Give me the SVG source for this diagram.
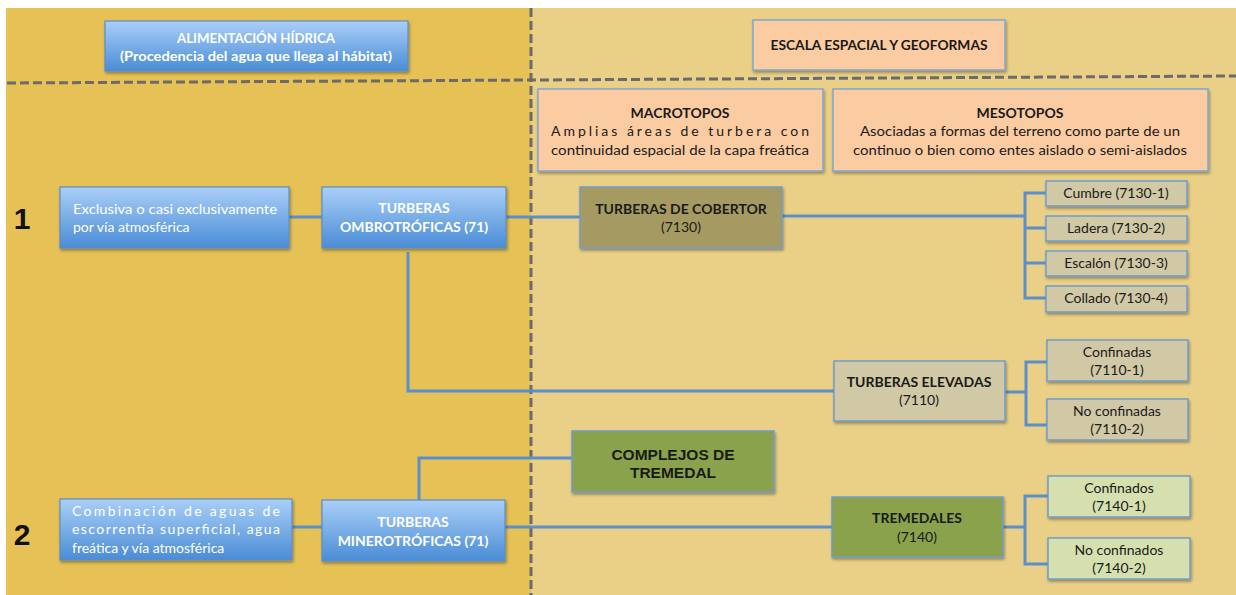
<svg xmlns="http://www.w3.org/2000/svg" width="1236" height="595" viewBox="0 0 1236 595">
<defs>
<linearGradient id="blueGrad" x1="0" y1="0" x2="0" y2="1">
<stop offset="0" stop-color="#AACFF8"/>
<stop offset="1" stop-color="#4A8CD5"/>
</linearGradient>
<filter id="sh" x="-10%" y="-10%" width="125%" height="140%">
<feDropShadow dx="1" dy="2" stdDeviation="1.5" flood-color="#000" flood-opacity="0.35"/>
</filter>
</defs>
<style>
text{font-family:Lato,"Open Sans","Liberation Sans",sans-serif;font-size:14px;fill:#1a1a1a;text-anchor:middle}
.w{fill:#ffffff}
.b{font-weight:bold}
.l{text-anchor:start}
.blue{fill:url(#blueGrad);stroke:#5B8ECC;stroke-width:1.2;filter:url(#sh)}
.peach{fill:#FBCCA2;stroke:#7FA6D2;stroke-width:1.5;filter:url(#sh)}
.olive{fill:#A59A62;stroke:#6F9CD0;stroke-width:1.5;filter:url(#sh)}
.khaki{fill:#D1C8A5;stroke:#6F9CD0;stroke-width:1.5;filter:url(#sh)}
.green{fill:#8AA24B;stroke:#6F9CD0;stroke-width:1.5;filter:url(#sh)}
.lgreen{fill:#D6E0AF;stroke:#6F9CD0;stroke-width:1.5;filter:url(#sh)}
.con{fill:none;stroke:#5B8FCB;stroke-width:3}
.dash{fill:none;stroke:#6B6B6B;stroke-width:3;stroke-dasharray:9 4}
.num{font-family:"Liberation Sans",Arial,sans-serif;font-size:30px;font-weight:bold;fill:#111}
.arial{font-family:"Liberation Sans",Arial,sans-serif;font-size:15.5px}
</style>
<rect x="0" y="0" width="1236" height="595" fill="#ffffff"/>
<rect x="6" y="8" width="525" height="587" fill="#E5C156"/>
<rect x="531" y="8" width="705" height="587" fill="#E9D086"/>
<g id="separators">
<path class="dash" d="M7,83 L1236,76"/>
<path class="dash" d="M531,8 L531,595"/>
</g>
<g id="connectors">
<path class="con" d="M289,217 L322,217"/>
<path class="con" d="M506,217 L580,217"/>
<path class="con" d="M782,216 L1025,216"/>
<path class="con" d="M1046,193 L1025,193 L1025,298 L1046,298"/>
<path class="con" d="M1025,228 L1046,228"/>
<path class="con" d="M1025,263 L1046,263"/>
<path class="con" d="M408,252 L408,391 L834,391"/>
<path class="con" d="M1005,392 L1026,392"/>
<path class="con" d="M1047,362 L1026,362 L1026,425 L1047,425"/>
<path class="con" d="M292,527 L322,527"/>
<path class="con" d="M419,500 L419,458 L572,458"/>
<path class="con" d="M505,527 L832,527"/>
<path class="con" d="M1003,527 L1025,527"/>
<path class="con" d="M1048,496 L1025,496 L1025,564 L1048,564"/>
</g>
<g id="n-alimentacion">
<rect class="blue" x="105" y="21" width="303" height="50"/>
<text class="w b" x="256" y="43" textLength="158" lengthAdjust="spacingAndGlyphs">ALIMENTACIÓN HÍDRICA</text>
<text class="w b" x="256" y="61" textLength="272" lengthAdjust="spacingAndGlyphs">(Procedencia del agua que llega al hábitat)</text>
</g>
<g id="n-escala">
<rect class="peach" x="753" y="20" width="252" height="50"/>
<text class="b" x="879" y="50" textLength="217" lengthAdjust="spacingAndGlyphs">ESCALA ESPACIAL Y GEOFORMAS</text>
</g>
<g id="n-macrotopos">
<rect class="peach" x="538" y="89" width="285" height="82"/>
<text class="b" x="680" y="118">MACROTOPOS</text>
<text x="680" y="136" textLength="258" lengthAdjust="spacing">Amplias áreas de turbera con</text>
<text x="680" y="155" textLength="258" lengthAdjust="spacingAndGlyphs">continuidad espacial de la capa freática</text>
</g>
<g id="n-mesotopos">
<rect class="peach" x="833" y="89" width="375" height="82"/>
<text class="b" x="1020" y="118">MESOTOPOS</text>
<text x="1020" y="136" textLength="320" lengthAdjust="spacingAndGlyphs">Asociadas a formas del terreno como parte de un</text>
<text x="1020" y="155" textLength="334" lengthAdjust="spacingAndGlyphs">continuo o bien como entes aislado o semi-aislados</text>
</g>
<g id="n-1">
<text class="num" x="22" y="229">1</text>
</g>
<g id="n-exclusiva">
<rect class="blue" x="60" y="187" width="229" height="61"/>
<text class="w l" x="73" y="214" textLength="204" lengthAdjust="spacingAndGlyphs">Exclusiva o casi exclusivamente</text>
<text class="w l" x="73" y="232">por vía atmosférica</text>
</g>
<g id="n-ombro">
<rect class="blue" x="322" y="187" width="184" height="61"/>
<text class="w b" x="414" y="213">TURBERAS</text>
<text class="w b" x="414" y="232">OMBROTRÓFICAS (71)</text>
</g>
<g id="n-cobertor">
<rect class="olive" x="580" y="187" width="202" height="61"/>
<text class="b" x="681" y="214">TURBERAS DE COBERTOR</text>
<text x="681" y="232">(7130)</text>
</g>
<g id="n-cumbre">
<rect class="khaki" x="1046" y="181" width="141" height="25"/>
<text x="1116" y="198">Cumbre (7130-1)</text>
</g>
<g id="n-ladera">
<rect class="khaki" x="1046" y="216" width="141" height="25"/>
<text x="1116" y="233">Ladera (7130-2)</text>
</g>
<g id="n-escalon">
<rect class="khaki" x="1046" y="251" width="141" height="25"/>
<text x="1116" y="268">Escalón (7130-3)</text>
</g>
<g id="n-collado">
<rect class="khaki" x="1046" y="286" width="141" height="26"/>
<text x="1116" y="303">Collado (7130-4)</text>
</g>
<g id="n-elevadas">
<rect class="khaki" x="834" y="361" width="171" height="60"/>
<text class="b" x="919" y="387">TURBERAS ELEVADAS</text>
<text x="919" y="405">(7110)</text>
</g>
<g id="n-confinadas">
<rect class="khaki" x="1047" y="340" width="141" height="41"/>
<text x="1117" y="357">Confinadas</text>
<text x="1117" y="375">(7110-1)</text>
</g>
<g id="n-noconfinadas">
<rect class="khaki" x="1047" y="399" width="141" height="41"/>
<text x="1117" y="416">No confinadas</text>
<text x="1117" y="434">(7110-2)</text>
</g>
<g id="n-complejos">
<rect class="green" x="572" y="431" width="202" height="61"/>
<text class="b arial" x="673" y="460">COMPLEJOS DE</text>
<text class="b arial" x="673" y="478">TREMEDAL</text>
</g>
<g id="n-2">
<text class="num" x="22" y="545">2</text>
</g>
<g id="n-combinacion">
<rect class="blue" x="60" y="499" width="232" height="61"/>
<text class="w l" x="72" y="516" textLength="208" lengthAdjust="spacing">Combinación de aguas de</text>
<text class="w l" x="72" y="534" textLength="208" lengthAdjust="spacing">escorrentía superficial, agua</text>
<text class="w l" x="72" y="553">freática y vía atmosférica</text>
</g>
<g id="n-minero">
<rect class="blue" x="322" y="500" width="183" height="61"/>
<text class="w b" x="413" y="527">TURBERAS</text>
<text class="w b" x="413" y="546">MINEROTRÓFICAS (71)</text>
</g>
<g id="n-tremedales">
<rect class="green" x="832" y="497" width="171" height="60"/>
<text class="b" x="917" y="523">TREMEDALES</text>
<text x="917" y="542">(7140)</text>
</g>
<g id="n-confinados">
<rect class="lgreen" x="1048" y="476" width="142" height="41"/>
<text x="1119" y="493">Confinados</text>
<text x="1119" y="511">(7140-1)</text>
</g>
<g id="n-noconfinados">
<rect class="lgreen" x="1048" y="538" width="142" height="41"/>
<text x="1119" y="555">No confinados</text>
<text x="1119" y="573">(7140-2)</text>
</g>
</svg>
